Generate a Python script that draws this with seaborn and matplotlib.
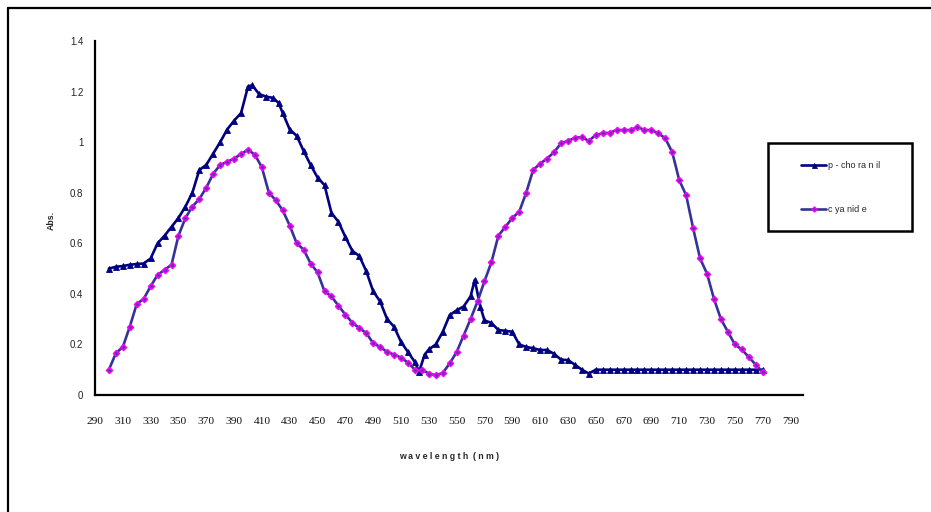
import numpy as np
import pandas as pd
import matplotlib
matplotlib.use("Agg")
import matplotlib.pyplot as plt
from matplotlib.patches import Rectangle
from matplotlib.lines import Line2D
import seaborn as sns

# ---------------- data ----------------
choranil_wl = [300, 305, 310, 315, 320, 325, 330, 335, 340, 345, 350, 355, 360, 365, 370,
               375, 380, 385, 390, 395, 400, 403, 408, 413, 418, 422, 425, 430, 435, 440,
               445, 450, 455, 460, 465, 470, 475, 480, 485, 490, 495, 500, 505, 510, 515,
               520, 523, 527, 530, 535, 540, 545, 550, 555, 560, 563, 567, 570, 575, 580,
               585, 590, 595, 600, 605, 610, 615, 620, 625, 630, 635, 640, 645, 650, 655,
               660, 665, 670, 675, 680, 685, 690, 695, 700, 705, 710, 715, 720, 725, 730,
               735, 740, 745, 750, 755, 760, 765, 770]
choranil_abs = [0.50, 0.507, 0.51, 0.515, 0.518, 0.52, 0.54, 0.60, 0.63, 0.665, 0.70, 0.745,
                0.80, 0.89, 0.91, 0.955, 1.00, 1.05, 1.085, 1.115, 1.22, 1.225, 1.19, 1.18,
                1.175, 1.155, 1.115, 1.05, 1.025, 0.965, 0.91, 0.86, 0.83, 0.72, 0.685, 0.625,
                0.57, 0.55, 0.49, 0.41, 0.37, 0.30, 0.27, 0.21, 0.17, 0.13, 0.092, 0.16, 0.18,
                0.20, 0.25, 0.316, 0.335, 0.35, 0.39, 0.455, 0.35, 0.295, 0.285, 0.257, 0.254,
                0.25, 0.20, 0.19, 0.185, 0.178, 0.178, 0.163, 0.14, 0.138, 0.12, 0.10, 0.085,
                0.10, 0.10, 0.10, 0.10, 0.10, 0.10, 0.10, 0.10, 0.10, 0.10, 0.10, 0.10, 0.10,
                0.10, 0.10, 0.10, 0.10, 0.10, 0.10, 0.10, 0.10, 0.10, 0.10, 0.10, 0.10]

cyanide_wl = list(range(300, 771, 5))
cyanide_abs = [0.10, 0.165, 0.19, 0.27, 0.36, 0.38, 0.43, 0.475, 0.495, 0.515, 0.63, 0.70,
               0.745, 0.775, 0.82, 0.875, 0.91, 0.922, 0.935, 0.953, 0.97, 0.95, 0.90, 0.80,
               0.77, 0.73, 0.67, 0.60, 0.575, 0.52, 0.485, 0.41, 0.39, 0.353, 0.318, 0.286,
               0.265, 0.245, 0.205, 0.19, 0.17, 0.16, 0.148, 0.128, 0.10, 0.10, 0.085, 0.078,
               0.087, 0.125, 0.17, 0.235, 0.30, 0.37, 0.45, 0.525, 0.63, 0.665, 0.70, 0.725,
               0.80, 0.89, 0.915, 0.935, 0.96, 0.995, 1.005, 1.017, 1.02, 1.005, 1.028, 1.035,
               1.037, 1.048, 1.048, 1.048, 1.06, 1.048, 1.048, 1.035, 1.015, 0.96, 0.85, 0.79,
               0.66, 0.54, 0.48, 0.38, 0.30, 0.25, 0.20, 0.18, 0.15, 0.12, 0.09]

x_ticks = list(range(290, 791, 20))
y_ticks = [0, 0.2, 0.4, 0.6, 0.8, 1.0, 1.2, 1.4]
y_tick_labels = ["0", "0.2", "0.4", "0.6", "0.8", "1", "1.2", "1.4"]
series_names = ["p - cho ra n il", "c ya nid e"]

# ---------------- style ----------------
sns.set_style("white")
plt.rcParams["font.family"] = ["Liberation Sans", "DejaVu Sans"]

W, H = 931, 512
fig = plt.figure(figsize=(W / 100, H / 100), dpi=100)
fig.patch.set_facecolor("white")

ax_l, ax_r, ax_b, ax_t = 95, 803, 395, 41
ax = fig.add_axes([ax_l / W, 1 - ax_b / H, (ax_r - ax_l) / W, (ax_b - ax_t) / H])

df_c = pd.DataFrame({"wl": choranil_wl, "abs": choranil_abs})
df_y = pd.DataFrame({"wl": cyanide_wl, "abs": cyanide_abs})

sns.lineplot(data=df_c, x="wl", y="abs", ax=ax, color="#000080", linewidth=1.9,
             marker="^", markersize=4.5, markerfacecolor="#000080",
             markeredgecolor="#000080", markeredgewidth=0.6, legend=False,
             errorbar=None, zorder=3)
sns.lineplot(data=df_y, x="wl", y="abs", ax=ax, color="#333399", linewidth=1.9,
             marker="D", markersize=3.2, markerfacecolor="#6633aa",
             markeredgecolor="#ff00ff", markeredgewidth=1.0, legend=False,
             errorbar=None, zorder=4)

ax.set_xlim(290, 799)
ax.set_ylim(0, 1.4)
ax.set_xticks(x_ticks)
ax.set_xticklabels([str(t) for t in x_ticks], family=["Liberation Serif", "DejaVu Serif"],
                   fontsize=8.2)
ax.set_yticks(y_ticks)
ax.set_yticklabels(y_tick_labels, fontsize=7)

for s in ["top", "right"]:
    ax.spines[s].set_visible(False)
for s in ["left", "bottom"]:
    ax.spines[s].set_color("black")
    ax.spines[s].set_linewidth(1.6)

ax.tick_params(axis="x", direction="out", length=3.5, width=1.4, color="black", pad=12,
               labelcolor="#111111")
ax.tick_params(axis="y", direction="out", length=2.5, width=1.2, color="black", pad=6,
               labelcolor="#222222")
ax.grid(False)

ax.set_xlabel("w a v e l e n g t h  ( n m )", fontsize=6.3, fontweight="bold")
ax.xaxis.set_label_coords(0.5, -(452 - ax_b) / (ax_b - ax_t))
ax.set_ylabel("Abs.", fontsize=6.3, fontweight="bold")
ax.yaxis.set_label_coords(-(ax_l - 56) / (ax_r - ax_l), (ax_b - 220) / (ax_b - ax_t))

# legend box
fig.patches.append(Rectangle((768 / W, 1 - 231 / H), 144 / W, 88 / H,
                             transform=fig.transFigure, facecolor="white",
                             edgecolor="black", linewidth=1.8, zorder=5))
lines = ax.get_lines()
leg = fig.legend(lines[:2], series_names, loc="upper left",
                 bbox_to_anchor=(801 / W, 1 - 161 / H), frameon=False,
                 fontsize=6.5, handlelength=2.8, handletextpad=0.2,
                 labelspacing=3.9, borderpad=0, borderaxespad=0, markerscale=0.8)
leg.set_zorder(6)

# outer frame
fig.add_artist(Line2D([8 / W, 8 / W], [0, 1 - 8 / H], transform=fig.transFigure,
                      color="black", linewidth=1.6))
fig.add_artist(Line2D([8 / W, 1], [1 - 8 / H, 1 - 8 / H], transform=fig.transFigure,
                      color="black", linewidth=1.6))

fig.savefig("out.png", dpi=100, facecolor="white")
